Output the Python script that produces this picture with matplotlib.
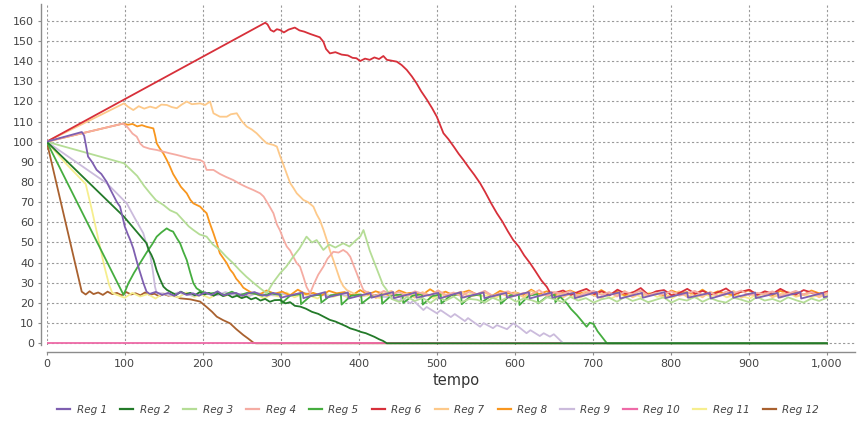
import numpy as np
import matplotlib
matplotlib.use("Agg")
import matplotlib.pyplot as plt
from matplotlib.lines import Line2D
from matplotlib.ticker import FuncFormatter

# ---------------- data ----------------
labels = ["Reg 1", "Reg 2", "Reg 3", "Reg 4", "Reg 5", "Reg 6",
          "Reg 7", "Reg 8", "Reg 9", "Reg 10", "Reg 11", "Reg 12"]
colors = ["#7e5fb0", "#237a29", "#b5dd96", "#f5aca3", "#45ad3f", "#d7303a",
          "#fdc98a", "#f8961e", "#cbbbdc", "#ee6aa7", "#f6ee8e", "#a9612f"]

# Reg 1
r1_head = [(0, 100), (45, 104.8), (48, 103), (53, 92.6), (58, 90), (64, 86), (70, 84), (77, 80),
           (82, 76), (86, 73), (90, 70), (94, 67.8), (97, 63), (100, 58), (104, 54), (107, 51.3),
           (111, 47), (115, 41.3), (119, 36), (124, 29.8), (128, 25.6)]
r1_band = [24.5, 25.5, 24.0, 25.0, 23.5, 25.5, 24.0, 24.8, 23.6, 25.2, 24.0, 25.8, 23.8, 24.6,
           25.0, 23.5, 24.8, 25.4, 24.0, 23.6, 25.0, 24.2]
r1_band_range = (132, 298)
r1_tail = [(300, 22.6), (328, 25.2), (329, 22.4), (357, 25.4), (358, 22.6), (386, 25.2), (387, 22.2),
           (415, 25.0), (416, 22.6), (444, 25.4), (445, 22.4), (473, 25.2), (474, 22.6), (502, 25.0),
           (503, 22.2), (531, 25.4), (532, 22.6), (560, 25.2), (561, 22.4), (589, 25.0), (590, 22.6),
           (618, 25.4), (619, 22.2), (647, 25.2), (648, 22.6), (676, 25.0), (677, 22.4), (705, 25.4),
           (706, 22.6), (734, 25.2), (735, 22.2), (763, 25.0), (764, 22.6), (792, 25.4), (793, 22.4),
           (821, 25.2), (822, 22.6), (850, 25.0), (851, 22.2), (879, 25.4), (880, 22.6), (908, 25.2),
           (909, 22.4), (937, 25.0), (938, 22.6), (966, 25.4), (967, 22.2), (995, 25.0), (996, 22.8),
           (1000, 23.2)]

# Reg 2
r2_pts = [(0, 100), (99, 62.8), (128, 49.6), (131, 46), (134, 44), (137, 41.3), (141, 36), (145, 32),
          (149.6, 28.1), (154, 26.5), (160, 25.2), (166, 24.0), (172, 25.6), (178, 24.4), (184, 25.0),
          (190, 23.8), (196, 25.4), (202, 24.2), (208, 25.0), (214, 23.6), (220, 24.8), (226, 23.4),
          (232, 24.2), (238, 22.8), (244, 23.6), (250, 22.4), (256, 23.2), (262, 21.8), (268, 22.6),
          (274, 21.2), (280, 22.0), (286, 20.6), (292, 21.4), (299, 21.5), (306, 19.8), (312, 20.4),
          (318, 18.6), (325, 18.2), (332, 17.2), (340, 15.6), (348, 14.6), (356, 13.0), (363, 11.6),
          (370, 10.8), (377, 9.6), (384, 8.4), (389, 7.4), (396, 6.6), (403, 5.6), (409, 5.0),
          (414.5, 4.1), (420, 3.2), (426, 2.0), (431, 1.2), (436, 0), (1000, 0)]

# Reg 3
r3_head = [(0, 100), (99, 89.3), (108, 86), (116, 83), (125, 78), (132.5, 74.4), (140, 71), (150, 68.5),
           (158, 66), (166.7, 64.5), (175, 61), (182, 58), (188, 56.2), (196, 54), (205, 52.9), (213, 49),
           (222, 46.3), (230, 43), (239, 39.7), (248, 36), (256, 33), (265, 30), (273.5, 27.3), (282, 24.8),
           (290, 30), (299, 34.7), (307, 38), (316, 43), (324, 47), (333, 52.9), (340, 50), (346, 51.2),
           (354.6, 46.3), (362, 49), (370, 47.5), (380, 49.6), (388, 48), (396, 51), (402, 53),
           (406, 56.2), (410, 51.2), (414, 46), (418.7, 41.3), (423, 37), (427, 33), (431, 29),
           (436, 26.4)]
r3_band = [22.0, 20.5, 23.0, 21.0, 22.5, 20.0, 22.8, 21.2, 23.2, 20.4, 22.0, 21.6, 20.2, 22.6, 21.0,
           23.0, 20.6, 22.2, 21.4, 20.0, 22.8, 21.8, 20.4, 23.0, 21.2, 22.4, 20.2, 21.8, 22.6, 20.6,
           23.0, 21.0, 22.2, 20.4, 21.6, 22.8, 20.2, 22.0, 21.2, 23.0, 20.6, 22.4, 21.0, 20.2, 22.6,
           21.6, 20.4, 23.0, 21.2, 22.0, 20.6, 22.8, 21.4, 20.2, 22.2, 21.0, 22.6]
r3_band_range = (442, 1000)

# Reg 4
r4_head = [(0, 100), (98, 109), (104, 107), (110, 104), (115.4, 102.5), (120, 99), (124, 97.5),
           (132, 96.5), (141, 95.9), (150, 95), (158, 94.2), (166, 93.5), (175, 92.6), (186, 91.5),
           (196.5, 90.9), (201, 90), (205, 86), (213.7, 86), (222, 84), (230, 82.5), (239, 81),
           (248, 79), (256, 77.5), (265, 76), (273.5, 74.4), (278, 72.8), (284, 69), (290.6, 64.5),
           (295, 59), (299, 56), (303, 52), (307.7, 48), (312, 46), (316, 43), (320, 40),
           (324.7, 38), (329, 33), (333, 28), (337.6, 24.8), (342, 29), (348, 34), (354.6, 38),
           (360, 42), (367.4, 45.4), (374, 45), (380, 46.3), (385, 45), (389, 43), (393, 39),
           (397.4, 34.7), (402, 30), (406, 26.4)]
r4_band = [25.0, 23.6, 26.0, 24.2, 25.4, 23.2, 25.8, 24.6, 23.8, 26.2, 24.0, 25.2, 23.4, 25.6, 24.4,
           26.0, 23.6, 24.8, 25.8, 23.8, 25.0, 24.2, 26.4, 23.4, 25.2, 24.6, 25.8, 23.6, 24.8, 26.0,
           24.0, 25.4, 23.2, 25.6, 24.4, 26.2, 23.8, 25.0, 24.2, 25.8, 23.6, 24.6, 26.0, 24.0, 25.2,
           23.4, 25.6, 24.8, 26.2, 23.8, 25.0, 24.4, 25.8, 23.6, 24.6, 26.0, 24.2, 25.4, 23.8, 25.0]
r4_band_range = (412, 1000)

# Reg 5
r5_head = [(0, 100), (98.5, 24), (105, 30), (112, 35), (120, 40), (128, 45), (135, 49), (141, 52.9),
           (147, 55), (153.8, 57), (158, 56), (162, 55.4), (167, 52), (171, 49.6), (175, 45.5),
           (179.5, 41.3), (184, 35), (188, 29.8), (192, 27.3), (198.7, 25.6)]
r5_band = [24.6, 25.2, 24.0, 25.6, 23.8, 25.0, 24.6, 23.6, 24.8, 24.2]
r5_band_range = (208, 296)
r5_tail = [(300, 24.2), (301, 19.8), (312, 23.6), (325, 24.4), (326, 19.4), (338, 23.4), (351, 24.2),
           (352, 20.2), (364, 23.8), (377, 24.4), (378, 19.2), (390, 23.6), (403, 24.2), (404, 19.8),
           (416, 23.4), (429, 24.4), (430, 19.6), (442, 23.8), (456, 24.2), (457, 20.0), (469, 23.6),
           (481, 24.4), (482, 19.2), (494, 23.4), (505, 24.2), (506, 19.8), (518, 23.8), (531, 24.4),
           (532, 19.4), (544, 23.6), (556, 24.2), (557, 20.2), (569, 23.4), (581, 24.4), (582, 19.6),
           (594, 23.8), (605, 24.2), (606, 19.0), (618, 23.6), (629, 24.4), (630, 19.8), (642, 23.4),
           (651, 24.2), (652, 20.4), (658, 23.1), (666.7, 19.8), (672, 17), (679.5, 14), (686, 11),
           (692, 8.2), (696, 10.2), (700.8, 9.6), (706, 6), (712, 3), (718, 0), (1000, 0)]

# Reg 6
r6_head = [(0, 100), (280, 159), (283, 158.2), (287, 155.4), (291, 154.6), (295, 155.8), (299, 155.4),
           (304, 154.2), (310, 155.6), (318, 156.6), (324, 155.2), (330, 154.6), (338, 153.4),
           (344, 152.6), (350, 151.8), (354.6, 149.6), (358, 146), (363, 143.8), (370, 144.4),
           (378, 143.2), (386, 142.8), (392, 141.6), (397, 141.4), (401.7, 140), (408, 141.2),
           (414, 140.6), (420, 141.8), (426, 141.0), (431.5, 142.5), (436, 140.6), (442, 140.2),
           (448.7, 139.7), (455, 138), (461.5, 135.6), (468, 132.4), (474, 129), (480, 125), (487, 121),
           (494, 116.6), (500, 112.4), (508.5, 104.2), (515, 101.2), (522, 97.4), (528, 94), (534, 91),
           (541, 87.2), (548, 83.6), (555.5, 79.4), (562, 75), (570, 69.2), (577, 64.5), (584, 60.4),
           (591, 55.6), (598, 51.2), (605, 48), (612, 43.6), (619.6, 39.7), (626, 36), (634, 31.2),
           (641, 28), (645, 25.2)]
r6_band = [25.0, 26.2, 24.0, 25.6, 27.0, 24.4, 25.8, 23.8, 26.6, 24.6, 25.2, 27.4, 24.0, 25.8, 26.4,
           23.8, 25.0, 27.0, 24.6, 26.0, 24.2, 25.4, 27.2, 24.4, 25.6, 26.6, 24.0, 25.8, 24.6, 27.0,
           25.0, 24.2, 26.4, 25.2, 24.4, 25.6]
r6_band_range = (652, 1000)

# Reg 7
r7_head = [(0, 100), (99, 119), (104, 117.4), (111, 115.7), (118, 117.6), (125, 116.4), (132.5, 117.4),
           (140, 116.6), (147, 118.4), (154, 118.2), (160, 117.2), (166.7, 116.6), (173, 118.4),
           (179.5, 119.9), (186, 118.6), (196.6, 119.0), (203, 118.2), (209.4, 119.9), (213.7, 114.1),
           (222, 112.4), (230.8, 112.4), (236, 113.6), (243.6, 114.1), (250, 110.2), (256.4, 107.5),
           (263, 106), (269, 104.2), (276, 101.4), (282, 99.2), (290.5, 98.4), (295, 97.6), (299, 93),
           (303, 89), (307.7, 84), (312, 79.5), (316, 77.2), (320.5, 74.4), (329, 71.1), (335, 70),
           (341.8, 67.8), (346, 64), (350, 61.2), (355, 56), (359, 51.2), (363, 46), (367.4, 41.3),
           (372, 36), (376, 31.4), (380, 28.4), (384.6, 26.4)]
r7_band = [25.0, 23.0, 25.6, 22.4, 24.6, 26.0, 23.2, 24.8, 22.6, 25.4, 23.6, 26.2, 22.8, 24.4, 25.6,
           23.0, 24.0, 25.8, 22.6, 24.6, 23.4, 25.2, 22.8, 26.0, 23.6, 24.4, 25.4, 22.6, 24.8, 23.2,
           25.8, 23.8, 22.4, 25.0, 24.2, 26.0, 22.8, 24.6, 23.4, 25.4, 22.6, 24.0, 25.8, 23.0, 24.8,
           22.8, 25.6, 23.6, 24.2, 26.0, 22.6, 24.6, 23.2, 25.2, 22.8, 24.4, 25.6, 23.4, 24.0, 25.0,
           22.8, 24.6]
r7_band_range = (392, 1000)

# Reg 8
r8_head = [(0, 100), (98, 109), (104, 108.4), (110, 108.8), (116, 107.6), (122, 108.2), (128, 107.4),
           (136.7, 106.6), (139, 103), (141, 99.2), (145, 96.6), (149.5, 94.2), (154, 90.9), (158, 87.6),
           (162, 84), (166.7, 81), (172, 77.6), (179.5, 74.4), (184, 71.2), (188, 69.4), (196.6, 67.8),
           (201, 66), (205, 64.5), (209, 59.6), (213.7, 54.6), (218, 49.6), (222, 44.6), (226, 42.4),
           (230.8, 39.7), (235, 36.6), (239, 34.7), (243, 32), (248, 29.8), (252, 27.6), (256.4, 26.5)]
r8_band = [25.2, 24.0, 26.2, 24.6, 25.6, 23.8, 26.6, 24.4, 25.0, 23.6, 26.0, 24.8, 25.4, 23.8, 26.4,
           24.2, 25.8, 24.6, 23.6, 26.2, 24.8, 25.2, 24.0, 26.8, 24.4, 25.6, 23.8, 25.0, 26.2, 24.2,
           25.4, 23.6, 26.0, 24.8, 25.2, 24.0, 26.6, 24.4, 25.8, 23.8, 25.0, 26.2, 24.6, 25.4, 24.0,
           26.4, 24.2, 25.6, 23.8, 25.2, 26.0, 24.4, 25.0, 23.6, 26.2, 24.8, 25.4, 24.0, 26.6, 24.2,
           25.8, 24.6, 23.8, 25.6, 26.2, 24.4, 25.0, 23.8, 26.0, 24.6, 25.4, 24.0, 26.2, 24.8, 25.2]
r8_band_range = (262, 1000)

# Reg 9
r9_head = [(0, 100), (77, 79.4), (102.6, 69.4), (113, 62), (123.8, 54.6), (128, 49), (132.4, 44.6),
           (136, 36), (138.8, 28), (141, 24.8)]
r9_band = [24.8, 23.8, 25.2, 24.2, 23.6, 25.0, 24.4, 23.8, 25.4, 24.0, 24.6, 23.4, 25.0, 24.2, 23.8,
           24.8, 23.6, 24.4, 25.0, 23.8, 24.2, 23.4, 24.6, 23.8, 24.0, 23.2, 24.4, 23.6, 23.0]
r9_band_range = (148, 432)
r9_tail = [(440, 23), (452, 21), (455, 22.5), (466, 19.8), (470, 21.2), (482.8, 16.5), (487, 18),
           (500, 14.9), (505, 16.4), (518, 13), (523, 14.5), (536, 11), (540, 12.5), (555.5, 8.2),
           (560, 10), (572, 7.5), (577, 9), (590, 7), (598, 9.9), (606, 7.8), (615, 5), (620, 6.5),
           (632, 3.6), (637, 5), (645, 3.3), (650, 4.5), (662, 0), (1000, 0)]

# Reg 10
r10_pts = [(0, 0), (1000, 0)]

# Reg 11
r11_head = [(0, 100), (25, 89), (50, 79), (58, 66), (66, 52), (74, 38), (80, 29), (84, 25)]
r11_band = [24.0, 22.6, 25.0, 23.2, 24.4, 22.2, 24.8, 23.6, 22.8, 25.2, 23.0, 24.2, 22.4, 24.6, 23.4,
            25.0, 22.6, 23.8, 24.8, 22.2, 24.0, 23.2, 25.2, 22.8, 24.4, 23.6, 22.2, 24.8, 23.0, 24.2,
            22.6, 25.0, 23.4, 24.0, 22.4, 24.6, 23.2, 22.8, 25.0, 23.6, 24.2, 22.4, 24.8, 23.0, 24.4,
            22.6, 25.2, 23.4, 23.8, 22.2, 24.6, 23.0, 24.0, 22.8, 25.0, 23.6, 24.2, 22.4, 24.8, 23.2,
            22.6, 24.4, 23.8, 25.0, 22.2, 24.0, 23.4, 24.6, 22.8, 25.2, 23.0, 24.2, 22.4, 24.8, 23.6,
            22.6, 24.4, 23.2, 25.0, 22.8, 24.0, 23.4, 22.2, 24.6, 23.8, 24.2, 22.6, 25.0, 23.0, 24.4,
            22.8, 24.0, 23.4]
r11_band_range = (90, 1000)

# Reg 12
r12_pts = [(0, 100), (44.9, 25.6), (50, 24.2), (55, 25.8), (60, 24.4), (66, 25.2), (72, 24.0),
           (78, 25.6), (84, 24.4), (90, 25.0), (96, 23.8), (102, 25.4), (108, 24.2), (114, 24.8),
           (120, 23.8), (126, 25.2), (132, 24.0), (138, 24.6), (144, 23.4), (150, 24.4), (156, 23.6),
           (162, 24.0), (171, 22.3), (184, 21.8), (196.6, 20.7), (205, 18), (212, 15.6), (218, 13.2),
           (226, 11.5), (235, 9.9), (243, 7), (252, 4.1), (258, 2.4), (265, 0.3), (268, 0), (1000, 0)]


def band(vals, rng):
    xs = np.linspace(rng[0], rng[1], len(vals))
    return list(zip(xs, vals))


series = [
    r1_head + band(r1_band, r1_band_range) + r1_tail,
    r2_pts,
    r3_head + band(r3_band, r3_band_range),
    r4_head + band(r4_band, r4_band_range),
    r5_head + band(r5_band, r5_band_range) + r5_tail,
    r6_head + band(r6_band, r6_band_range),
    r7_head + band(r7_band, r7_band_range),
    r8_head + band(r8_band, r8_band_range),
    r9_head + band(r9_band, r9_band_range) + r9_tail,
    r10_pts,
    r11_head + band(r11_band, r11_band_range),
    r12_pts,
]

# ---------------- figure ----------------
W, H = 858, 421
fig = plt.figure(figsize=(W / 100, H / 100), dpi=100)
left_px, right_px, top_px, bot_px = 46.7, 855, 4, 345
ax = fig.add_axes([left_px / W, 1 - bot_px / H, (right_px - left_px) / W, (bot_px - top_px) / H])

n = len(series)
for i in range(n - 1, -1, -1):
    pts = np.array(series[i], dtype=float)
    ax.plot(pts[:, 0], pts[:, 1], color=colors[i], lw=1.3, zorder=10 + (n - i),
            solid_joinstyle="round")

ax.set_xlim(0, 1036)
ax.set_ylim(-0.85, 168.3)
ax.set_xticks(np.arange(0, 1001, 100))
ax.set_yticks(np.arange(0, 161, 10))
ax.xaxis.set_major_formatter(FuncFormatter(lambda v, p: f"{int(v):,}"))

ax.grid(True, color="#9a9a9a", lw=0.8, linestyle=(0, (2, 2)), zorder=0)
ax.set_axisbelow(True)

for s in ["top", "right"]:
    ax.spines[s].set_visible(False)
ax.spines["left"].set_position(("outward", 4))
ax.spines["bottom"].set_position(("outward", 5))
for s in ["left", "bottom"]:
    ax.spines[s].set_color("#8c8c8c")
    ax.spines[s].set_linewidth(1.0)

ax.tick_params(axis="both", length=2, width=0.8, color="#8c8c8c", labelsize=8,
               labelcolor="#444444", pad=3)

fig.text(456 / W, 1 - 381 / H, "tempo", ha="center", va="center", fontsize=10.5, color="#333333")

handles = [Line2D([], [], color=c, lw=1.6) for c in colors]
leg = fig.legend(handles, labels, loc="center", bbox_to_anchor=(438 / W, 1 - 410 / H), ncol=12,
                 frameon=False, handlelength=1.3, handletextpad=0.6, columnspacing=1.25,
                 prop={"style": "italic", "size": 7.5})
for t in leg.get_texts():
    t.set_color("#444444")

fig.savefig("out.png", dpi=100)
